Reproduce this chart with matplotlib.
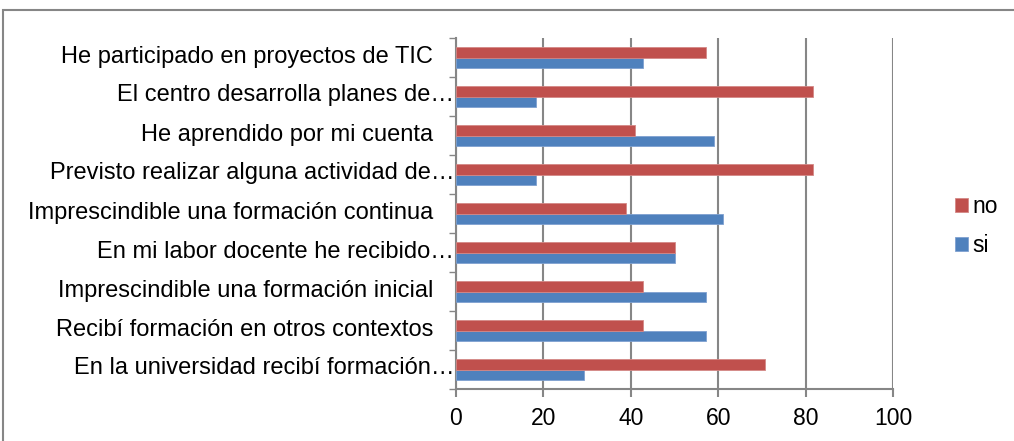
import matplotlib.pyplot as plt
import numpy as np
from matplotlib.patches import Rectangle

plt.rcParams['font.family'] = ['Liberation Sans', 'DejaVu Sans']

# categorias, de abajo hacia arriba
categorias = [
    'En la universidad recibí formación…',
    'Recibí formación en otros contextos',
    'Imprescindible una formación inicial',
    'En mi labor docente he recibido…',
    'Imprescindible una formación continua',
    'Previsto realizar alguna actividad de…',
    'He aprendido por mi cuenta',
    'El centro desarrolla planes de…',
    'He participado en proyectos de TIC',
]
si = [29.4, 57.1, 57.1, 50.0, 61.1, 18.2, 59.1, 18.2, 42.9]
no = [70.6, 42.9, 42.9, 50.0, 38.9, 81.8, 40.9, 81.8, 57.1]
ticks_x = [0, 20, 40, 60, 80, 100]

rojo = '#C0504D'
azul = '#4F81BD'
gris = '#868686'

fig = plt.figure(figsize=(10.14, 4.41), dpi=100)
ax = fig.add_axes([456 / 1014, 1 - 389 / 441, 437 / 1014, 351 / 441])

y = np.arange(len(categorias))
h = 0.28
ax.barh(y - h / 2, si, height=h, color=azul, edgecolor='#7FA1D0', linewidth=0.6, label='si', zorder=3)
ax.barh(y + h / 2, no, height=h, color=rojo, edgecolor='#D48886', linewidth=0.6, label='no', zorder=3)

ax.set_xlim(0, 100)
ax.set_ylim(-0.5, len(categorias) - 0.5)
ax.set_xticks(ticks_x)
ax.set_xticklabels([str(t) for t in ticks_x], fontsize=16.5)
ax.xaxis.grid(True, color=gris, linewidth=1.5, zorder=0)

# marcas entre categorias
ax.set_yticks(np.arange(len(categorias) + 1) - 0.5)
ax.set_yticklabels([])
ax.tick_params(axis='y', which='major', length=5, color=gris, width=1)
ax.tick_params(axis='x', length=6, color=gris, width=1.5, pad=7)

# etiquetas: las recortadas con "…" llegan hasta el eje
for yi, texto in zip(y, categorias):
    sep = 2 if texto.endswith('…') else 23
    ax.annotate(texto, xy=(0, yi), xycoords=ax.get_yaxis_transform(),
                xytext=(-sep, 1), textcoords='offset pixels',
                ha='right', va='center', fontsize=17)

for lado in ['top', 'right']:
    ax.spines[lado].set_visible(False)
for lado in ['left', 'bottom']:
    ax.spines[lado].set_color(gris)
    ax.spines[lado].set_linewidth(1.5)

handles, labels = ax.get_legend_handles_labels()
fig.legend(handles[::-1], labels[::-1], loc='center left', bbox_to_anchor=(955 / 1014, 1 - 226 / 441),
           frameon=False, fontsize=16.5, handlelength=0.57, handleheight=0.57,
           handletextpad=0.17, labelspacing=0.7, borderpad=0, borderaxespad=0)

fig.patches.append(Rectangle((3 / 1014, -0.1), 1.2, 1.1 - 10 / 441, transform=fig.transFigure,
                             fill=False, edgecolor=gris, linewidth=1.5))

fig.savefig('out.png', dpi=100)
